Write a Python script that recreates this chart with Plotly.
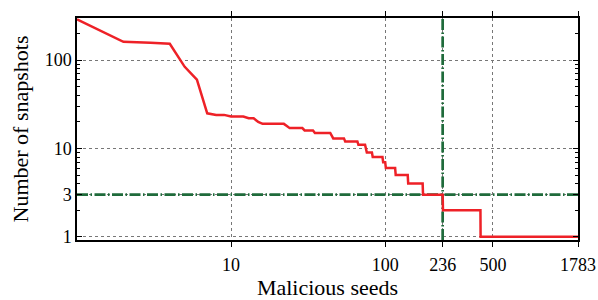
import math
import plotly.graph_objects as go

# Data: (seeds, snapshots) level end points
seeds = [1, 2, 3, 4, 5, 6, 7, 8, 9, 10, 12, 13, 14, 15, 16, 22, 23, 24, 29, 30, 34,
         35, 44, 45, 46, 54, 55, 66, 67, 74, 75, 76, 82, 83, 96, 97, 100, 101, 116,
         117, 140, 141, 175, 176, 236, 237, 415, 416, 1783]
snapshots = [290, 161, 157, 153, 84, 60, 25, 24, 24, 23, 23, 22, 22, 20, 19, 19, 18, 17, 17, 16, 16,
             15, 15, 14, 13, 13, 12, 12, 11, 11, 10, 9, 9, 8, 8, 7, 7, 6, 6,
             5, 5, 4, 4, 3, 3, 2, 2, 1, 1]

x_tick_vals = [10, 100, 236, 500, 1783]
x_tick_text = ["10", "100", "236", "500", "1783"]
y_tick_vals = [1, 3, 10, 100]
y_tick_text = ["1", "3", "10", "100"]
y_minor_vals = [2, 4, 5, 6, 7, 8, 9, 20, 30, 40, 50, 60, 70, 80, 90, 200]

threshold_seeds = 236
threshold_snapshots = 3
x_limits = [1, 1783]
y_limits = [0.92, 300]

FONT = "Liberation Serif"
GREEN = "#1f6b3b"
RED = "#ee2127"
DASH = "11px,2.5px,1.5px,2.5px"

fig = go.Figure()
fig.add_trace(go.Scatter(x=x_limits, y=[threshold_snapshots] * 2, mode="lines",
                         line=dict(color=GREEN, width=2.7, dash=DASH), hoverinfo="skip"))
fig.add_trace(go.Scatter(x=[threshold_seeds] * 2, y=y_limits, mode="lines",
                         line=dict(color=GREEN, width=2.7, dash=DASH), hoverinfo="skip"))
fig.add_trace(go.Scatter(x=seeds, y=snapshots, mode="lines",
                         line=dict(color=RED, width=2.5)))

fig.update_layout(
    width=598, height=300,
    margin=dict(l=77, r=20, t=18, b=60),
    paper_bgcolor="white", plot_bgcolor="white",
    showlegend=False,
    font=dict(family=FONT, size=18, color="black"),
)
fig.update_xaxes(
    type="log", range=[math.log10(x_limits[0]), math.log10(x_limits[1])],
    tickvals=x_tick_vals, ticktext=x_tick_text,
    ticks="outside", ticklen=5, tickwidth=1, tickcolor="black",
    ticklabelstandoff=3,
    showline=True, linecolor="black", linewidth=1.5, mirror="allticks",
    showgrid=True, gridcolor="#777", griddash="dot", gridwidth=0.8,
    zeroline=False, automargin=False,
    title=dict(text="Malicious seeds", standoff=13),
)
fig.update_yaxes(
    type="log", range=[math.log10(y_limits[0]), math.log10(y_limits[1])],
    tickvals=y_tick_vals, ticktext=y_tick_text,
    ticks="inside", ticklen=5, tickwidth=1, tickcolor="black",
    minor=dict(tickvals=y_minor_vals, ticks="inside", ticklen=3, tickcolor="black", showgrid=False),
    showline=True, linecolor="black", linewidth=1.5, mirror="allticks",
    showgrid=True, gridcolor="#777", griddash="dot", gridwidth=0.8,
    zeroline=False, automargin=False,
    title=dict(text="Number of snapshots", standoff=10),
)
fig.write_html("out.html", config={"displayModeBar": False},
               post_script="document.body.style.margin='0';")
